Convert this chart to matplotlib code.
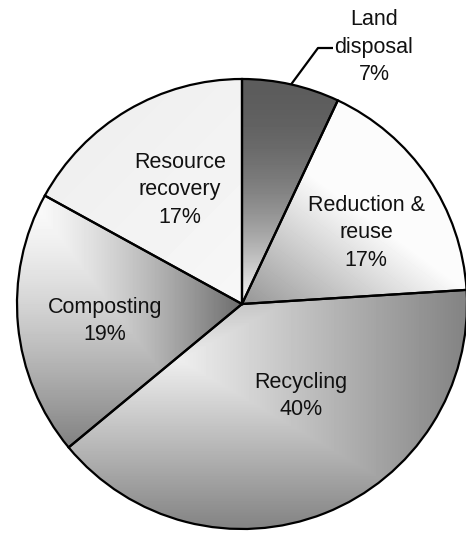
import numpy as np
import matplotlib
matplotlib.use("Agg")
import matplotlib.pyplot as plt

# Waste management shares
categories = ["Land\ndisposal", "Reduction &\nreuse", "Recycling", "Composting", "Resource\nrecovery"]
shares = [7, 17, 40, 19, 17]

W, H = 466, 533
CX, CY_TOP, R = 242, 304, 225

plt.rcParams["font.family"] = ["Liberation Sans", "DejaVu Sans"]

fig = plt.figure(figsize=(W / 100, H / 100), dpi=100)
ax = fig.add_axes([0, 0, 1, 1])

wedges, _ = ax.pie(
    shares, startangle=90, counterclock=False,
    center=(CX, H - CY_TOP), radius=R,
    wedgeprops=dict(facecolor="none", edgecolor="black", linewidth=1.6),
)
ax.set_xlim(0, W)
ax.set_ylim(0, H)
ax.set_aspect("auto")
ax.axis("off")

# pixel grid (y measured from the top edge)
xs = np.arange(W) + 0.5
ys = np.arange(H) + 0.5
X, Y = np.meshgrid(xs, ys)


def shade_land(X, Y):
    v = np.clip((Y - 81) / 221, 0, 1) ** 2
    return 92 + (248 - 92) * v


def shade_reduction(X, Y):
    c = 160 + 0.42 * (X - 255) - 0.57 * (Y - 295)
    return np.clip(c, 150, 252)


def shade_recycling(X, Y):
    fx, fy = 180, 360
    dx = X - fx
    dy = Y - fy
    vx = np.where(dx >= 0, dx / 280, -dx / 200)
    vy = np.where(dy >= 0, dy / 165, -dy / 150)
    v = np.clip(np.maximum(vx, vy), 0, 1)
    return 238 - (238 - 133) * v


def shade_composting(X, Y):
    vx = np.clip((X - 35) / 205, 0, 1)
    vy = np.clip((Y - 205) / 270, 0, 1)
    v = np.maximum(vx, vy) ** 1.3
    return 250 - (250 - 110) * v


def shade_resource(X, Y):
    v = np.clip(((X - 20) / 222 + (Y - 80) / 222) / 2, 0, 1)
    return 236 + (247 - 236) * v


shaders = [shade_land, shade_reduction, shade_recycling, shade_composting, shade_resource]

for wedge, shade in zip(wedges, shaders):
    img = shade(X, Y)
    im = ax.imshow(img, cmap="gray", vmin=0, vmax=255, origin="upper",
                   extent=(0, W, 0, H), interpolation="bilinear", zorder=0.5)
    im.set_clip_path(wedge)
    wedge.set_zorder(2)

# label placement (x, y from top)
label_pos = [(374, 47), (366, 233), (301, 396), (105, 321), (180, 190)]
for cat, val, (lx, ly) in zip(categories, shares, label_pos):
    ax.text(lx, H - ly, f"{cat}\n{val}%", ha="center", va="center",
            fontsize=15.5, linespacing=1.4, color="#111111", zorder=3)

# leader line for the smallest slice
w0 = wedges[0]
mid = np.deg2rad((w0.theta1 + w0.theta2) / 2)
ex, ey = CX + R * np.cos(mid), (H - CY_TOP) + R * np.sin(mid)
ax.plot([ex, 318, 333], [ey, H - 48, H - 48], color="black", linewidth=1.6,
        solid_capstyle="butt", zorder=3, clip_on=False)

fig.savefig("out.png", dpi=100)
